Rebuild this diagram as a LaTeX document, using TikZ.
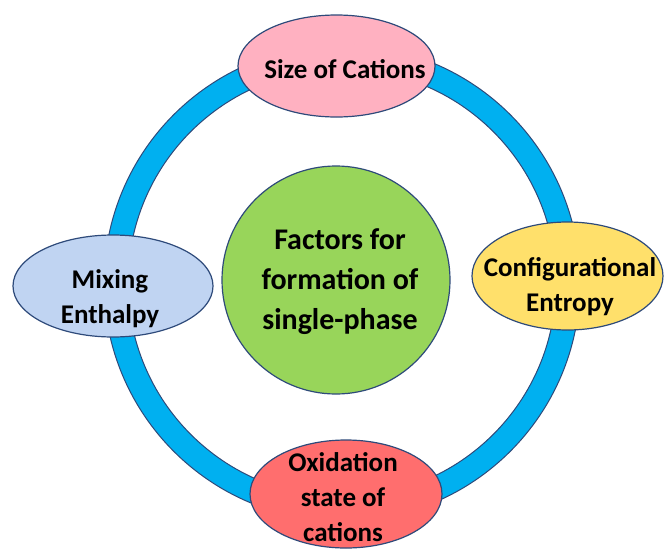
\documentclass[tikz,border=0pt]{standalone}
\usepackage{fontspec}
\setmainfont{Carlito}
\usetikzlibrary{shapes.geometric}
\definecolor{ringblue}{HTML}{00B0F0}
\definecolor{edgec}{HTML}{2E4A7A}
\definecolor{pinkc}{HTML}{FFB1C1}
\definecolor{yellowc}{HTML}{FFE06B}
\definecolor{bluec}{HTML}{C0D4F2}
\definecolor{redc}{HTML}{FF6E6E}
\definecolor{greenc}{HTML}{98D55A}
\tikzset{
  elli/.style={ellipse, draw=edgec, line width=1.2pt, inner sep=0pt},
  lab/.style={align=center, font=\fontsize{27}{35}\selectfont\bfseries, text=black, inner sep=0pt},
  biglab/.style={align=center, font=\fontsize{30}{40}\selectfont\bfseries, text=black, inner sep=0pt},
  ringline/.style={draw=edgec, line width=1pt, fill=ringblue, even odd rule}
}
\begin{document}
\begin{tikzpicture}[x=1pt, y=-1pt]
\useasboundingbox (0,0) rectangle (664,552);
\coordinate (c) at (342,283);
\path[ringline] (c) circle[radius=238pt] (c) circle[radius=214pt];
\node[elli, fill=pinkc, minimum width=197pt, minimum height=102pt] (size) at (336.5,66) {};
\node[lab] (sizet) at (345,69) {Size of Cations};
\node[elli, fill=yellowc, minimum width=191pt, minimum height=108pt] (conf) at (567.5,276) {};
\node[lab] (conft) at (570,287) {Configurational\\Entropy};
\node[elli, fill=bluec, minimum width=200pt, minimum height=102pt] (mix) at (113,286) {};
\node[lab] (mixt) at (110,299) {Mixing\\Enthalpy};
\node[elli, fill=redc, minimum width=192pt, minimum height=108pt] (oxi) at (346,494) {};
\node[lab] (oxit) at (343,497) {Oxidation\\state of\\cations};
\node[circle, draw=edgec, line width=1.2pt, fill=greenc, minimum size=228pt, inner sep=0pt] (ctr) at (336,280) {};
\node[biglab] (ctrt) at (340,282) {Factors for\\formation of\\single-phase};
\end{tikzpicture}
\end{document}
